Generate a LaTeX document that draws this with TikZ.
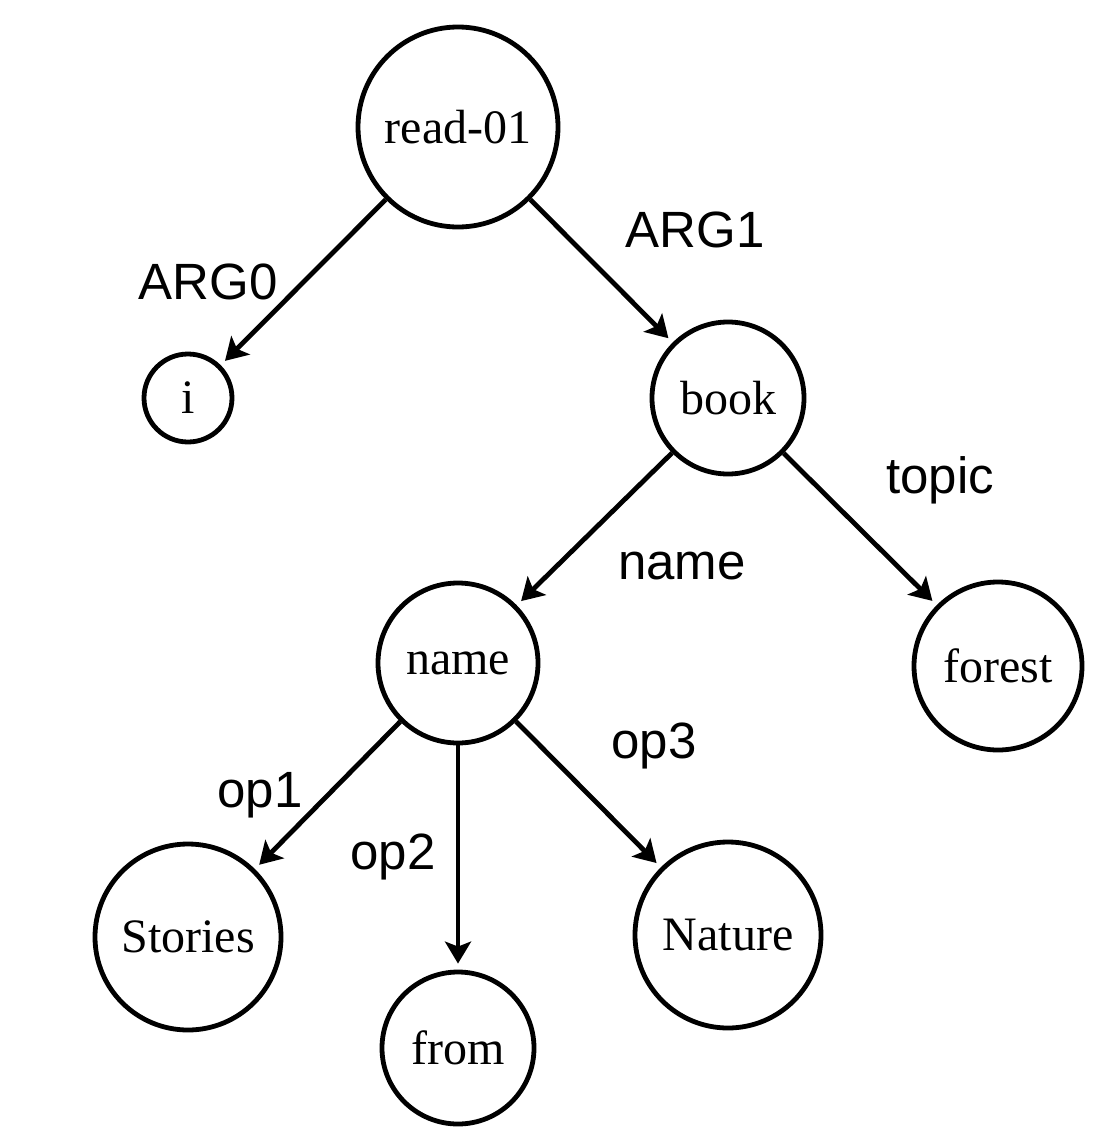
\documentclass[tikz,border=0pt]{standalone}
\usepackage{fontspec}
\setmainfont{Liberation Serif}
\newfontfamily\lblfont{Liberation Sans}
\usetikzlibrary{arrows.meta}
\tikzset{
  concept/.style={draw=black, circle, line width=2.4pt, inner sep=0pt, font=\fontsize{24}{28}\selectfont},
  role/.style={font=\lblfont\fontsize{25.5}{30}\selectfont, inner sep=0pt},
  edge/.style={-{Stealth[length=11pt, width=13pt, inset=2.5pt]}, line width=2.4pt, shorten >=3pt}
}

\begin{document}
\begin{tikzpicture}[x=0.5pt, y=-0.5pt]
  \useasboundingbox (0,0) rectangle (1112,1140);
  \node[concept, minimum size=100pt] (read) at (458,127) {read-01};
  \node[concept, minimum size=44pt] (i) at (188,398) {i};
  \node[concept, minimum size=76pt] (book) at (728,398) {book};
  \node[concept, minimum size=80pt] (name) at (458,663) {name};
  \node[concept, minimum size=84pt] (forest) at (998,666) {forest};
  \node[concept, minimum size=93pt] (stories) at (188,937) {Stories};
  \node[concept, minimum size=76pt] (from) at (458,1048) {from};
  \node[concept, minimum size=93pt] (nature) at (728,935) {Nature};

  \node[role] (arg0) at (208,282) {ARG0};
  \node[role] (arg1) at (695,230) {ARG1};
  \node[role] (topic) at (940,480) {topic};
  \node[role] (namerole) at (682,566) {name};
  \node[role] (op1) at (260,795) {op1};
  \node[role] (op2) at (393,857) {op2};
  \node[role] (op3) at (654,746) {op3};

  \draw[edge] (read) -- (i);
  \draw[edge] (read) -- (book);
  \draw[edge] (book) -- (name);
  \draw[edge] (book) -- (forest);
  \draw[edge] (name) -- (stories);
  \draw[edge] (name) -- (from);
  \draw[edge] (name) -- (nature);
\end{tikzpicture}
\end{document}
